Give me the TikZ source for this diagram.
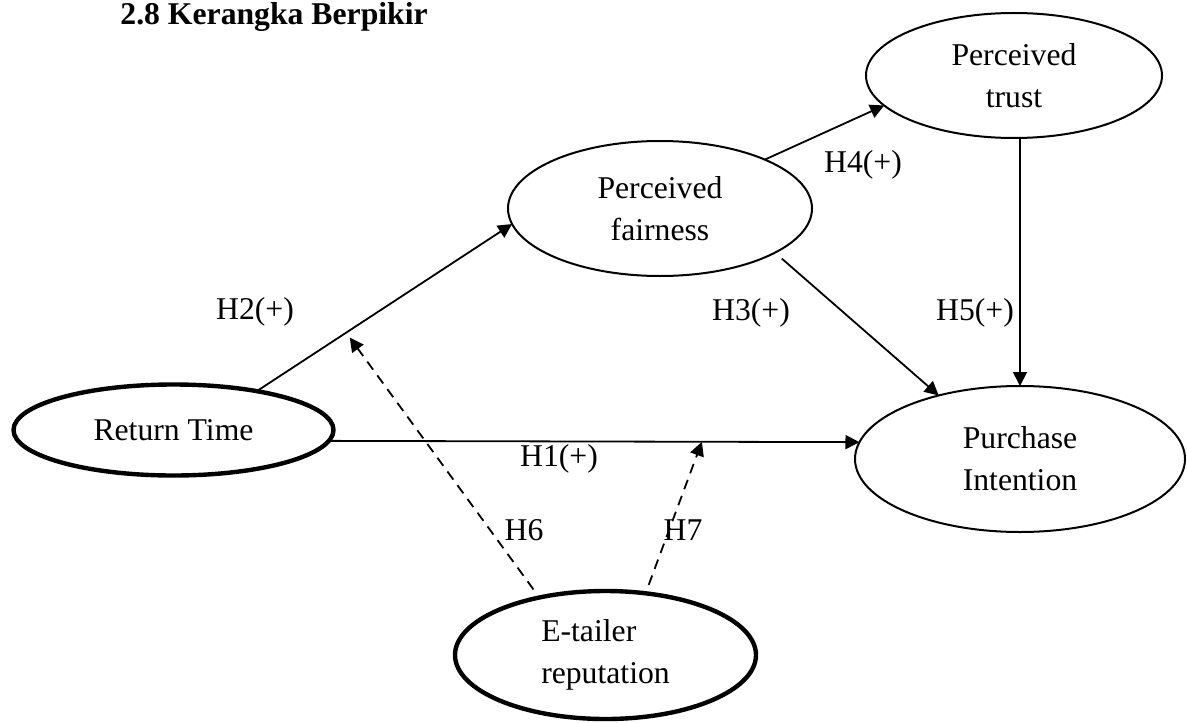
\documentclass[tikz,border=0pt]{standalone}
\usepackage{fontspec}
\setmainfont{Liberation Serif}
\usepackage{tikz}
\usetikzlibrary{arrows.meta,shapes.geometric}
\newcommand{\figfont}{\fontsize{15.85pt}{21pt}\selectfont}
\tikzset{
  construct/.style={draw, ellipse, line width=1pt, inner sep=2pt,
    outer sep=0pt, align=center, font=\figfont},
  exogen/.style={construct, line width=2.2pt},
  hyp/.style={anchor=base, inner sep=0pt, font=\figfont},
  arrow/.style={-{Triangle[length=7pt,width=7pt]}, line width=0.9pt},
  modarrow/.style={arrow, dash pattern=on 5pt off 3.5pt}
}

\begin{document}
\begin{tikzpicture}[x=0.5pt, y=-0.5pt]
  \useasboundingbox (0,0) rectangle (1187,722);
  \node[anchor=base west, inner sep=0pt, font=\figfont\bfseries] (title) at (120,25) {2.8 Kerangka Berpikir};

  % constructs
  \node[exogen, minimum width=160pt, minimum height=45.5pt] (rt) at (173.5,430) {Return Time};
  \node[construct, minimum width=152pt, minimum height=67.5pt] (pf) at (660,208.5) {Perceived\\fairness};
  \node[construct, minimum width=148pt, minimum height=62.5pt] (pt) at (1014,75.5) {Perceived\\trust};
  \node[construct, minimum width=165pt, minimum height=73pt] (pi) at (1020,459) {Purchase\\Intention};
  \node[exogen, minimum width=150.5pt, minimum height=64pt, align=left] (er) at (605.5,655) {E-tailer\\reputation};

  % direct paths
  \draw[arrow] (rt.25) -- coordinate[pos=0.35] (h2foot) (pf.186);
  \draw[arrow] (pf.25) -- (pt.193);
  \draw[arrow, shorten <=4.5pt] (pf.-21) -- (pi.142);
  \draw[arrow] (pi.north |- pt.south) -- (pi.north);
  \draw[arrow] (rt.-4) -- coordinate[pos=0.703] (h1foot) (pi.174);

  % moderation
  \draw[modarrow, shorten <=5pt, shorten >=3pt] (er.139) -- (h2foot);
  \draw[modarrow, shorten <=4.5pt] (er.57.5) -- (h1foot);

  % hypothesis labels
  \node[hyp] (h1) at (559,466) {H1(+)};
  \node[hyp] (h2) at (255,319) {H2(+)};
  \node[hyp] (h3) at (751,320) {H3(+)};
  \node[hyp] (h4) at (863,172) {H4(+)};
  \node[hyp] (h5) at (975,320) {H5(+)};
  \node[hyp] (h6) at (524,540) {H6};
  \node[hyp] (h7) at (683,540) {H7};
\end{tikzpicture}
\end{document}
